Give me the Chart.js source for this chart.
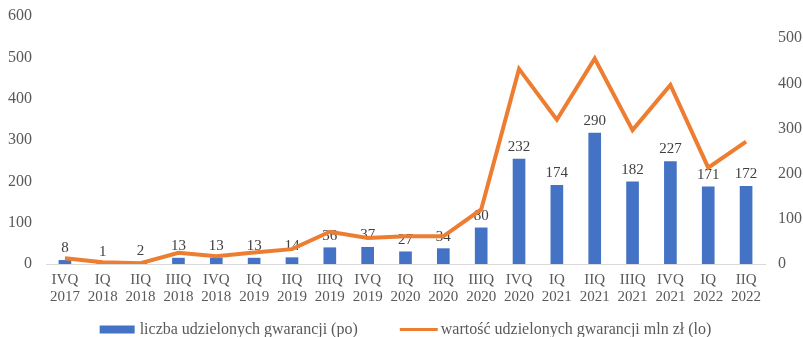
<!DOCTYPE html>
<html lang="pl">
<head>
    <meta charset="UTF-8">
    <title>Gwarancje</title>
    <script src="https://cdn.jsdelivr.net/npm/chart.js"></script>
    <style>
        body {
            margin: 0;
            padding: 0;
            background: #fff;
        }
        #wrap {
            width: 803px;
            height: 337px;
        }
    </style>
</head>
<body>
    <div id="wrap"><canvas id="myChart" width="803" height="337"></canvas></div>
    <script>
        const quarters = [
            ['IVQ', '2017'], ['IQ', '2018'], ['IIQ', '2018'], ['IIIQ', '2018'], ['IVQ', '2018'],
            ['IQ', '2019'], ['IIQ', '2019'], ['IIIQ', '2019'], ['IVQ', '2019'],
            ['IQ', '2020'], ['IIQ', '2020'], ['IIIQ', '2020'], ['IVQ', '2020'],
            ['IQ', '2021'], ['IIQ', '2021'], ['IIIQ', '2021'], ['IVQ', '2021'],
            ['IQ', '2022'], ['IIQ', '2022']
        ];
        // liczba gwarancji - prawa oś
        const guaranteeCount = [8, 1, 2, 13, 13, 13, 14, 36, 37, 27, 34, 80, 232, 174, 290, 182, 227, 171, 172];
        // wartość w mln zł - lewa oś
        const guaranteeValue = [14, 4, 2, 27, 19, 28, 36, 78, 63, 67, 67, 132, 472, 349, 497, 324, 433, 233, 296];

        const leftTicks = [0, 100, 200, 300, 400, 500, 600];
        const rightTicks = [0, 100, 200, 300, 400, 500];

        const serif = '"Liberation Serif", "Times New Roman", serif';

        // etykiety nad słupkami, rysowane przed linią
        const barLabels = {
            id: 'barLabels',
            afterDatasetDraw(chart, args) {
                if (args.index !== 0) return;
                const ctx = chart.ctx;
                ctx.save();
                ctx.font = '15px ' + serif;
                ctx.fillStyle = '#404040';
                ctx.textAlign = 'center';
                ctx.textBaseline = 'alphabetic';
                args.meta.data.forEach((bar, i) => {
                    ctx.fillText(String(guaranteeCount[i]), bar.x, bar.y - 8);
                });
                ctx.restore();
            }
        };

        // legenda na dole, rysowana ręcznie (odstępy jak w oryginale)
        const bottomLegend = {
            id: 'bottomLegend',
            afterDraw(chart) {
                const ctx = chart.ctx;
                const ds = chart.data.datasets;
                const y = chart.height - 7.5;
                ctx.save();
                ctx.font = '16px ' + serif;
                ctx.fillStyle = '#595959';
                ctx.textBaseline = 'middle';
                const w1 = ctx.measureText(ds[0].label).width;
                const w2 = ctx.measureText(ds[1].label).width;
                const total = 35 + 5 + w1 + 42 + 38 + 3 + w2;
                let x = (chart.chartArea.left + chart.chartArea.right) / 2 - total / 2;
                ctx.fillStyle = ds[0].backgroundColor;
                ctx.fillRect(x, y - 4, 35, 8);
                x += 40;
                ctx.fillStyle = '#595959';
                ctx.fillText(ds[0].label, x, y);
                x += w1 + 42;
                ctx.strokeStyle = ds[1].borderColor;
                ctx.lineWidth = 3;
                ctx.beginPath();
                ctx.moveTo(x, y);
                ctx.lineTo(x + 38, y);
                ctx.stroke();
                x += 41;
                ctx.fillText(ds[1].label, x, y);
                ctx.restore();
            }
        };

        // stała szerokość osi Y, bez dodatkowego odstępu u góry
        function fixAxis(width) {
            return axis => {
                axis.width = width;
                axis.paddingTop = 0;
                axis.paddingBottom = 0;
            };
        }

        const ctx = document.getElementById('myChart').getContext('2d');
        new Chart(ctx, {
            type: 'bar',
            data: {
                labels: quarters,
                datasets: [{
                    type: 'bar',
                    label: 'liczba udzielonych gwarancji (po)',
                    data: guaranteeCount,
                    backgroundColor: '#4472C4',
                    borderWidth: 0,
                    barThickness: 12,
                    yAxisID: 'yRight',
                    order: 2
                }, {
                    type: 'line',
                    label: 'wartość udzielonych gwarancji mln zł (lo)',
                    data: guaranteeValue,
                    borderColor: '#ED7D31',
                    backgroundColor: '#ED7D31',
                    borderWidth: 4,
                    pointRadius: 0,
                    tension: 0,
                    yAxisID: 'yLeft',
                    order: 1
                }]
            },
            options: {
                responsive: false,
                animation: false,
                layout: {
                    padding: { top: 16, left: 0, right: 0, bottom: 24 }
                },
                plugins: {
                    tooltip: { enabled: false },
                    legend: { display: false }
                },
                scales: {
                    x: {
                        grid: { display: false, drawTicks: false },
                        border: { color: '#d9d9d9', width: 1 },
                        ticks: {
                            color: '#595959',
                            font: { family: serif, size: 15, lineHeight: 1.1 },
                            padding: 8,
                            maxRotation: 0,
                            autoSkip: false
                        }
                    },
                    yLeft: {
                        position: 'left',
                        min: 0,
                        max: 600,
                        grid: { display: false, drawTicks: false },
                        border: { display: false },
                        afterBuildTicks: axis => { axis.ticks = leftTicks.map(v => ({ value: v })); },
                        afterFit: fixAxis(46),
                        ticks: {
                            color: '#595959',
                            font: { family: serif, size: 16 },
                            padding: 14
                        }
                    },
                    yRight: {
                        position: 'right',
                        min: 0,
                        max: 549,
                        grid: { display: false, drawTicks: false },
                        border: { display: false },
                        afterBuildTicks: axis => { axis.ticks = rightTicks.map(v => ({ value: v })); },
                        afterFit: fixAxis(38),
                        ticks: {
                            color: '#595959',
                            font: { family: serif, size: 16 },
                            padding: 13
                        }
                    }
                }
            },
            plugins: [barLabels, bottomLegend]
        });
    </script>
</body>
</html>
